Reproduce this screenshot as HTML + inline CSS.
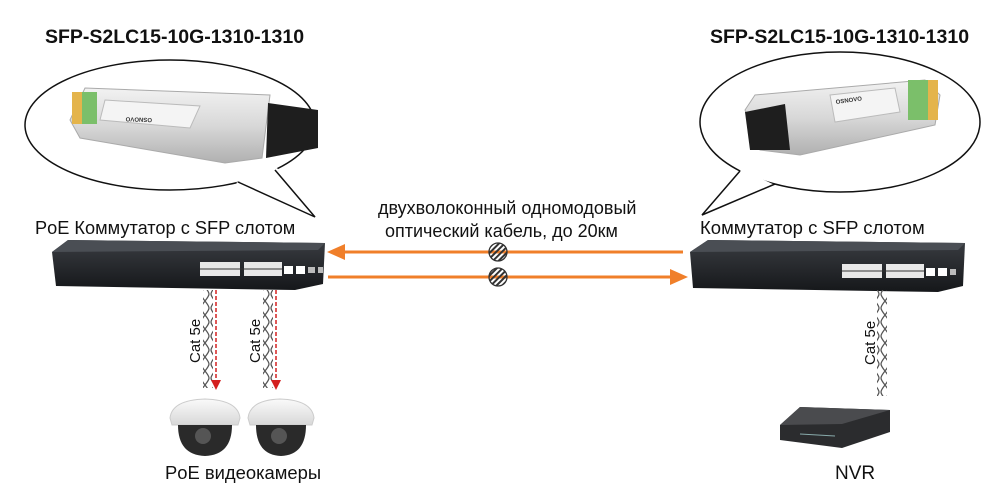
<!DOCTYPE html>
<html><head><meta charset="utf-8"><style>
html,body{margin:0;padding:0;background:#fff;}
svg{display:block;font-family:"Liberation Sans",sans-serif;}
</style></head><body>
<svg width="999" height="493" viewBox="0 0 999 493" xmlns="http://www.w3.org/2000/svg">
<defs>
<linearGradient id="sfp" x1="0" y1="0" x2="0" y2="1"><stop offset="0" stop-color="#f2f2f2"/><stop offset="0.5" stop-color="#d8d8d8"/><stop offset="1" stop-color="#b0b0b0"/></linearGradient>
<linearGradient id="sw" x1="0" y1="0" x2="0" y2="1"><stop offset="0" stop-color="#3a3d42"/><stop offset="1" stop-color="#15171a"/></linearGradient>
<linearGradient id="cam" x1="0" y1="0" x2="0" y2="1"><stop offset="0" stop-color="#fafafa"/><stop offset="1" stop-color="#d8d8d8"/></linearGradient>
<pattern id="twist" width="10" height="14" patternUnits="userSpaceOnUse"><path d="M1 0 C1 4 9 10 9 14 M9 0 C9 4 1 10 1 14" stroke="#555" stroke-width="1.3" fill="none"/></pattern>
<pattern id="hatch" width="4" height="4" patternUnits="userSpaceOnUse" patternTransform="rotate(45)"><rect width="2" height="4" fill="#333"/></pattern>
</defs>

<!-- titles -->
<text x="45" y="43" font-size="19.5" font-weight="bold" fill="#111">SFP-S2LC15-10G-1310-1310</text>
<text x="710" y="43" font-size="19.5" font-weight="bold" fill="#111">SFP-S2LC15-10G-1310-1310</text>

<!-- left bubble -->
<ellipse cx="170" cy="125" rx="145" ry="65" fill="#fff" stroke="#111" stroke-width="1.5"/>
<polygon points="277,168 315,217 236,183 250,176" fill="#fff"/>
<polyline points="275,170 315,217 238,182" fill="none" stroke="#111" stroke-width="1.5"/>
<!-- left sfp -->
<g>
<polygon points="70,120 85,88 270,95 262,158 225,163 80,138" fill="url(#sfp)" stroke="#aaa"/>
<rect x="72" y="92" width="25" height="32" fill="#7bbf6a"/>
<rect x="72" y="92" width="10" height="32" fill="#e4b44b"/>
<polygon points="105,100 200,106 190,128 100,120" fill="#f4f4f4" stroke="#bbb"/>
<text x="148" y="122" font-size="6" font-weight="bold" fill="#333" transform="rotate(182 150 120)">OSNOVO</text>
<polygon points="268,103 318,110 318,148 266,158" fill="#1e1e1e"/>
</g>

<!-- right bubble -->
<ellipse cx="840" cy="122" rx="140" ry="70" fill="#fff" stroke="#111" stroke-width="1.5"/>
<polygon points="742,169 702,215 777,186 760,178" fill="#fff"/>
<polyline points="740,171 702,215 775,184" fill="none" stroke="#111" stroke-width="1.5"/>
<!-- right sfp -->
<g>
<polygon points="745,110 755,95 925,80 940,95 935,125 800,155 760,150" fill="url(#sfp)" stroke="#aaa"/>
<rect x="908" y="80" width="30" height="40" fill="#7bbf6a"/>
<rect x="928" y="80" width="10" height="40" fill="#e4b44b"/>
<polygon points="830,95 895,88 900,112 835,122" fill="#f4f4f4" stroke="#bbb"/>
<text x="836" y="104" font-size="6" font-weight="bold" fill="#333" transform="rotate(-8 836 104)">OSNOVO</text>
<polygon points="745,112 785,104 790,150 750,150" fill="#1e1e1e"/>
</g>

<!-- switch labels -->
<text x="35" y="234" font-size="18.2" fill="#111">PoE Коммутатор с SFP слотом</text>
<text x="700" y="234" font-size="18.5" fill="#111">Коммутатор с SFP слотом</text>

<!-- left switch -->
<polygon points="52,252 68,240 325,243 323,284 295,290 56,286" fill="url(#sw)"/>
<polygon points="52,252 68,240 325,243 318,250" fill="#4a4e54"/>
<g fill="#fff">
<rect x="200" y="262" width="40" height="14" fill="#e8e8e8"/><rect x="244" y="262" width="38" height="14" fill="#e8e8e8"/>
<rect x="284" y="266" width="9" height="8"/><rect x="296" y="266" width="9" height="8"/>
<rect x="308" y="267" width="7" height="6" fill="#bbb"/><rect x="318" y="267" width="5" height="6" fill="#bbb"/>
</g>
<line x1="200" y1="269" x2="282" y2="269" stroke="#333" stroke-width="1"/>

<!-- right switch -->
<polygon points="690,252 708,240 965,243 963,286 938,292 693,288" fill="url(#sw)"/>
<polygon points="690,252 708,240 965,243 958,250" fill="#4a4e54"/>
<g fill="#fff">
<rect x="842" y="264" width="40" height="14" fill="#e8e8e8"/><rect x="886" y="264" width="38" height="14" fill="#e8e8e8"/>
<rect x="926" y="268" width="9" height="8"/><rect x="938" y="268" width="9" height="8"/>
<rect x="950" y="269" width="6" height="6" fill="#bbb"/>
</g>
<line x1="842" y1="271" x2="924" y2="271" stroke="#333" stroke-width="1"/>

<!-- fiber text -->
<text x="378" y="214" font-size="18" fill="#111">двухволоконный одномодовый</text>
<text x="385" y="237" font-size="18" fill="#111">оптический кабель, до 20км</text>

<!-- arrows -->
<line x1="342" y1="252" x2="683" y2="252" stroke="#f07f2a" stroke-width="3"/>
<polygon points="327,252 345,244 345,260" fill="#f07f2a"/>
<line x1="328" y1="277" x2="672" y2="277" stroke="#f07f2a" stroke-width="3"/>
<polygon points="688,277 670,269 670,285" fill="#f07f2a"/>
<circle cx="498" cy="252" r="9" fill="url(#hatch)" stroke="#333" stroke-width="1.3"/>
<circle cx="498" cy="277" r="9" fill="url(#hatch)" stroke="#333" stroke-width="1.3"/>

<!-- cat5e cables -->
<rect x="203" y="290" width="10" height="98" fill="url(#twist)"/>
<line x1="216" y1="290" x2="216" y2="380" stroke="#d42020" stroke-width="1.5" stroke-dasharray="4,2"/>
<polygon points="211,380 221,380 216,390" fill="#d42020"/>
<text x="0" y="0" font-size="15" fill="#111" transform="translate(200,363) rotate(-90)">Cat 5e</text>

<rect x="263" y="290" width="10" height="98" fill="url(#twist)"/>
<line x1="276" y1="290" x2="276" y2="380" stroke="#d42020" stroke-width="1.5" stroke-dasharray="4,2"/>
<polygon points="271,380 281,380 276,390" fill="#d42020"/>
<text x="0" y="0" font-size="15" fill="#111" transform="translate(260,363) rotate(-90)">Cat 5e</text>

<rect x="877" y="290" width="10" height="106" fill="url(#twist)"/>
<text x="0" y="0" font-size="15" fill="#111" transform="translate(875,365) rotate(-90)">Cat 5e</text>

<!-- cameras -->
<g>
<path d="M170 418 Q172 400 205 399 Q238 400 240 418 L238 425 L172 425 Z" fill="url(#cam)" stroke="#ccc"/>
<path d="M178 425 L232 425 Q232 455 205 456 Q178 455 178 425 Z" fill="#2a2a2a"/>
<circle cx="203" cy="436" r="8" fill="#555"/>
</g>
<g>
<path d="M248 418 Q250 400 280 399 Q312 400 314 418 L312 425 L250 425 Z" fill="url(#cam)" stroke="#ccc"/>
<path d="M256 425 L306 425 Q306 455 281 456 Q256 455 256 425 Z" fill="#2a2a2a"/>
<circle cx="279" cy="436" r="8" fill="#555"/>
</g>
<text x="165" y="479" font-size="18.4" fill="#111">PoE видеокамеры</text>

<!-- NVR -->
<polygon points="780,425 800,407 890,410 890,432 842,448 780,440" fill="#2b2c2e"/>
<polygon points="780,425 800,407 890,410 842,424" fill="#4a4b4e"/>
<line x1="800" y1="434" x2="835" y2="436" stroke="#8aa" stroke-width="1"/>
<text x="835" y="479" font-size="19" fill="#111">NVR</text>
</svg>
</body></html>
